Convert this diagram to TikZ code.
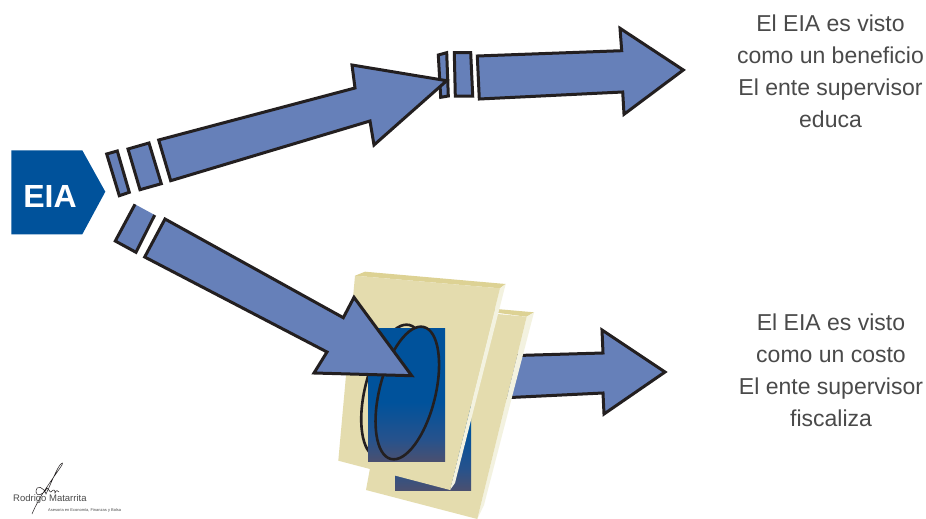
\documentclass[tikz,border=0pt]{standalone}
\usepackage{fontspec}
\setmainfont{Liberation Sans}
\definecolor{arrowfill}{HTML}{6680B9}
\definecolor{inkline}{HTML}{231F20}
\definecolor{eiablue}{HTML}{00529B}
\definecolor{paper}{HTML}{E4DCAE}
\definecolor{papertop}{HTML}{DDD294}
\definecolor{paperside}{HTML}{F3F2E0}
\definecolor{gradlow}{HTML}{4A5070}
\definecolor{gradmid}{HTML}{27528C}
\definecolor{textgray}{HTML}{4A4A4A}
\pgfdeclareverticalshading{sheetgrad}{100bp}{color(0bp)=(gradlow); color(25bp)=(gradlow); color(33bp)=(gradmid); color(47bp)=(eiablue); color(100bp)=(eiablue)}
\tikzset{
  blockarrow/.style={fill=arrowfill,draw=inkline,line width=3pt,line join=miter,miter limit=6},
  ringline/.style={draw=inkline,line width=2.6pt},
  sheetbody/.style={fill=paper},
  sheettop/.style={fill=papertop},
  sheetside/.style={fill=paperside},
  sheetblue/.style={shading=sheetgrad},
  caption/.style={align=center,text=textgray,font=\fontsize{23}{32}\selectfont},
}
\begin{document}
\begin{tikzpicture}[x=1pt,y=-1pt]
\useasboundingbox[fill=white] (0,0) rectangle (926,519);
% EIA tag
\fill[eiablue] (11.3,150.3) -- (82.3,150.3) -- (105.3,191.7) -- (82.3,234.3) -- (11.3,234.3) -- cycle;
\node[text=white,font=\bfseries\fontsize{32}{32}\selectfont] (eia) at (50,196) {EIA};
% upper arrow segments
\draw[blockarrow] (106.7,154) -- (117.3,151) -- (129.3,192.3) -- (119.3,195.7) -- cycle;
\draw[blockarrow] (128,149) -- (149,143) -- (161.3,183.7) -- (140,189.7) -- cycle;
\draw[blockarrow] (438.3,55) -- (446.7,52.7) -- (448.3,96) -- (440.7,97.3) -- cycle;
\draw[blockarrow] (158.7,140) -- (355,88) -- (352,65) -- (446.7,80.7) -- (374,145) -- (370,121) -- (170.7,180.7) -- cycle;
\draw[blockarrow] (454.3,52.7) -- (470.7,52.7) -- (472.7,96) -- (455.3,96) -- cycle;
\draw[blockarrow] (477.3,56) -- (621.7,50.7) -- (620,28.3) -- (683.3,70) -- (624,114.3) -- (622.7,92) -- (479.3,99) -- cycle;
% lower right arrow (behind the sheets)
\draw[blockarrow] (500,356) -- (603,353) -- (602,330) -- (665,372) -- (604,414) -- (603,393) -- (500,398) -- cycle;
% back-right sheet
\fill[sheettop] (400,300) -- (500,309.3) -- (534,312.3) -- (526.7,316.7) -- cycle;
\fill[sheetside] (526.7,316.7) -- (534,312.3) -- (484,505) -- (477.3,519) -- cycle;
\fill[sheetbody] (400,305) -- (526.7,316.7) -- (477.3,519) -- (366,490) -- cycle;
\fill[sheetblue] (395,357) rectangle (471,490);
% front-left sheet
\fill[sheettop] (355,275.7) -- (365,271.7) -- (505.7,284) -- (500,288.3) -- cycle;
\fill[sheetside] (500,288.3) -- (505.7,284) -- (455,483) -- (450,490) -- cycle;
\fill[sheetbody] (355,275.7) -- (500,288.3) -- (450,490) -- (338.3,460.7) -- cycle;
% rings and blue sheet
\draw[ringline,rotate around={-14:(393,391)}] (393,391) ellipse [x radius=28,y radius=68];
\fill[sheetblue] (368,328) rectangle (445,461);
\draw[ringline,rotate around={-14:(407.3,393)}] (407.3,393) ellipse [x radius=28,y radius=68];
% lower arrow segments
\fill[arrowfill] (135,204.3) -- (154.7,215) -- (136,252.3) -- (115.3,241) -- cycle;
\draw[inkline,line width=3pt] (154.7,215) -- (136,252.3) -- (115.3,241) -- (135,204.3);
\draw[blockarrow] (165,219) -- (343.3,317.7) -- (354,297.3) -- (411.7,375.7) -- (314,373) -- (327,352) -- (144.7,257) -- cycle;
% captions
\node[caption,anchor=north] (upper) at (830.5,11) {El EIA es visto\\como un beneficio\\El ente supervisor\\educa};
\node[caption,anchor=north] (lower) at (831,310) {El EIA es visto\\como un costo\\El ente supervisor\\fiscaliza};
% signature
\draw[inkline,line width=0.5pt,line cap=round] (32,514) .. controls (40,495) and (52,480) .. (62,465) .. controls (64,461) and (60,463) .. (56,472) .. controls (52,480) and (49,488) .. (46,494) .. controls (44,487) and (36,484) .. (36,492) .. controls (36,497) and (44,495) .. (47,488) .. controls (50,490) and (50,494) .. (52,491) .. controls (54,489) and (55,490) .. (55,493) .. controls (56,490) and (58,490) .. (59,492);
\node[anchor=west,inner sep=0pt,text=textgray,font=\fontsize{9.5}{9.5}\selectfont] (name) at (13,499) {Rodrigo Matarrita};
\node[anchor=west,inner sep=0pt,text=textgray,font=\fontsize{4}{4}\selectfont] (tagline) at (48,510) {Asesoria en Economía, Finanzas y Bolsa};
\end{tikzpicture}
\end{document}
